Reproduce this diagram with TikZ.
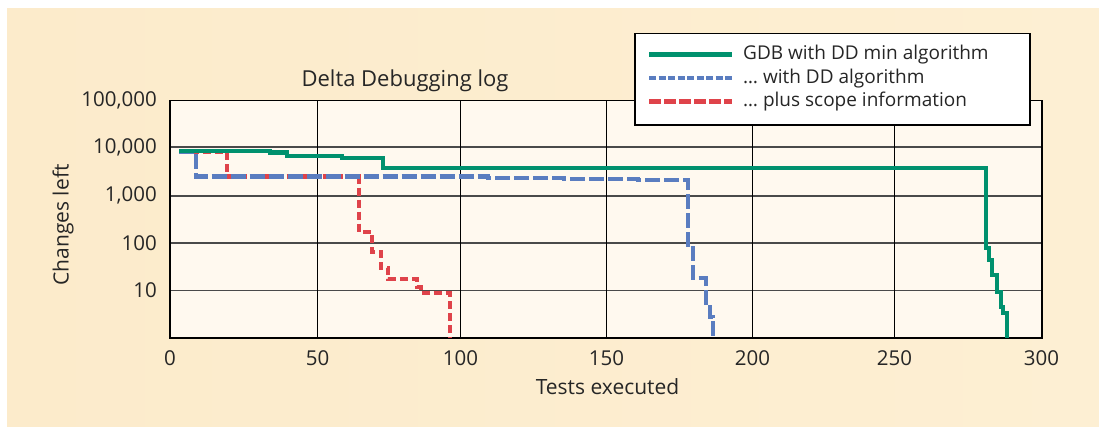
\documentclass[tikz,border=0pt]{standalone}
\usepackage{fontspec}
\setmainfont{Open Sans}
\definecolor{panelL}{HTML}{FCEBCB}
\definecolor{panelM}{HTML}{FEF7EA}
\definecolor{panelR}{HTML}{FDEFD3}
\definecolor{plotbg}{HTML}{FFF9EF}
\definecolor{ddgreen}{HTML}{00916E}
\definecolor{ddblue}{HTML}{5A7DC0}
\definecolor{ddred}{HTML}{DF434A}
\definecolor{gridgray}{HTML}{4A4A4A}
\begin{document}
\begin{tikzpicture}[x=1pt,y=-1pt,
  ticklabel/.style={font=\fontsize{20.5}{22}\selectfont, inner sep=0pt, text=black!85},
  axislabel/.style={font=\fontsize{21}{23}\selectfont, inner sep=0pt, text=black!85},
  legendtext/.style={font=\fontsize{19}{21}\selectfont, inner sep=0pt, anchor=west, text=black!85},
  hgrid/.style={draw=gridgray, line width=1.6pt},
  vgrid/.style={draw=black, line width=1.1pt},
  curve/.style={line width=4.3pt},
  mincurve/.style={curve, draw=ddgreen},
  ddcurve/.style={curve, draw=ddblue, dash pattern=on 15pt off 4pt},
  scopecurve/.style={curve, draw=ddred, dash pattern=on 8pt off 4pt}]
\useasboundingbox (0,0) rectangle (1099,426);
% page and tinted panel
\fill[white] (0,0) rectangle (1099,426);
\shade[left color=panelL, middle color=panelM, right color=panelR] (7,8) rectangle (1099,426);

% plot area
\fill[plotbg] (170,100.7) rectangle (1042,338);
\foreach \y in {147,195.7,243,290.3}
  \draw[hgrid] (170,\y) -- (1042,\y);
\foreach \x in {317.5,460.5,606.5,752.5,894.5}
  \draw[vgrid] (\x,100.7) -- (\x,338);
\draw[black, line width=1.5pt] (170,100.7) rectangle (1042,338);

% axis labels
\node[ticklabel, anchor=east] (y5) at (157,100.7) {100,000};
\node[ticklabel, anchor=east] (y4) at (157,147) {10,000};
\node[ticklabel, anchor=east] (y3) at (157,195.7) {1,000};
\node[ticklabel, anchor=east] (y2) at (157,243) {100};
\node[ticklabel, anchor=east] (y1) at (157,290.3) {10};
\node[ticklabel] (x0) at (170,358) {0};
\node[ticklabel] (x50) at (317.5,358) {50};
\node[ticklabel] (x100) at (460.5,358) {100};
\node[ticklabel] (x150) at (606.5,358) {150};
\node[ticklabel] (x200) at (752.5,358) {200};
\node[ticklabel] (x250) at (894.5,358) {250};
\node[ticklabel] (x300) at (1041.5,358) {300};
\node[axislabel] (xlabel) at (607.5,386.7) {Tests executed};
\node[axislabel, rotate=90] (ylabel) at (63,225) {Changes left};
\node[axislabel, font=\fontsize{22}{24}\selectfont] (title) at (405,81) {Delta Debugging log};

% runs: scope information, plain DD, DD min
\draw[scopecurve] (179,152) -- (226.7,152) -- (226.7,176.5) -- (359.3,176.5)
  -- (359.3,231.7) -- (372,231.7) -- (372,252) -- (381,252) -- (381,268)
  -- (388,268) -- (388,279) -- (416.7,279) -- (416.7,287) -- (421,287)
  -- (421,293.3) -- (450,293.3) -- (450,338);
\draw[ddcurve] (179,152) -- (195.7,152) -- (195.7,176.5) -- (488,176.5)
  -- (488,177.8) -- (564,177.8) -- (564,178.8) -- (638,178.8) -- (638,180)
  -- (688,180) -- (688,248.5) -- (693,248.5) -- (693,278.3) -- (706,278.3)
  -- (706,307) -- (710,307) -- (710,316.7) -- (713,316.7) -- (713,338);
\draw[mincurve] (179,151) -- (270,151) -- (270,152.5) -- (286.7,152.5)
  -- (286.7,155.7) -- (341.7,155.7) -- (341.7,157.7) -- (383,157.7)
  -- (383,167.7) -- (986,167.7) -- (986,248) -- (989.3,248) -- (989.3,260)
  -- (992.3,260) -- (992.3,275) -- (997.3,275) -- (997.3,291.7)
  -- (1000.7,291.7) -- (1000.7,306.7) -- (1003.3,306.7) -- (1003.3,313.3)
  -- (1006.7,313.3) -- (1006.7,338);

% legend
\draw[fill=white, draw=black, line width=1.5pt] (635,33.3) rectangle (1030,125);
\coordinate (ga) at (649,54.3);  \coordinate (gb) at (732,54.3);
\coordinate (ba) at (649,78.3);  \coordinate (bb) at (732,78.3);
\coordinate (ra) at (649,101.7); \coordinate (rb) at (732,101.7);
\draw[draw=ddgreen, line width=5pt] (ga) -- (gb);
\draw[draw=ddblue, line width=4.3pt, dash pattern=on 7pt off 2.5pt] (ba) -- (bb);
\draw[draw=ddred, line width=4.6pt, dash pattern=on 12pt off 3pt] (ra) -- (rb);
\node[legendtext] (lg) at (743,54.3) {GDB with DD min algorithm};
\node[legendtext] (lb) at (743,78.3) {\dots{} with DD algorithm};
\node[legendtext] (lr) at (743,101.7) {\dots{} plus scope information};
\end{tikzpicture}
\end{document}
